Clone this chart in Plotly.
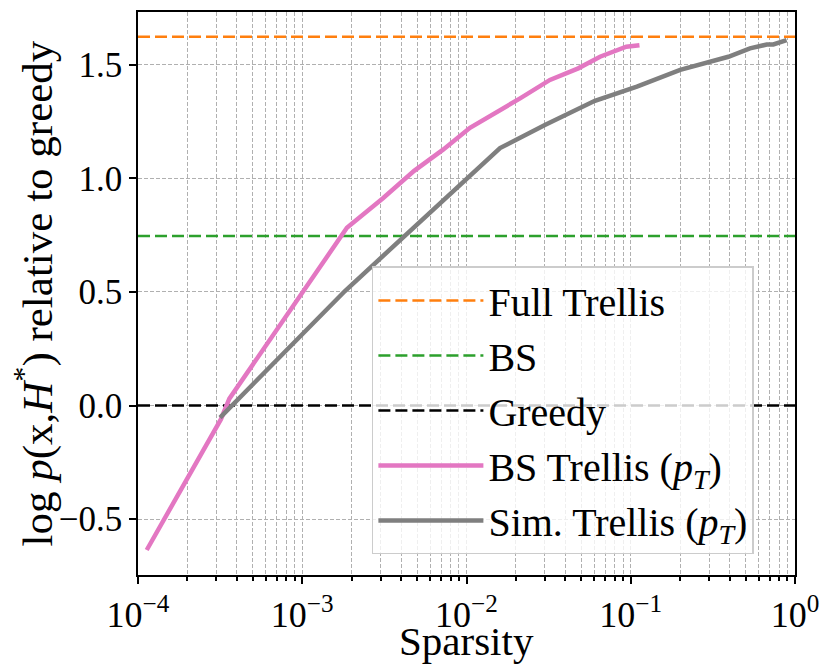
import plotly.graph_objects as go

# reference levels (log-prob relative to greedy)
full_trellis = 1.623
bs_level = 0.746
greedy_level = 0.0
x_span = [1e-4, 1.0]

# BS Trellis (p_T)
bs_trellis_x = [1.13e-4, 3.2e-4, 3.6e-4, 1.87e-3, 3.1e-3, 4.8e-3, 7.2e-3,
                1.05e-2, 2.12e-2, 3.22e-2, 4.79e-2, 6.5e-2, 9.4e-2, 0.113]
bs_trellis_y = [-0.636, -0.06, 0.03, 0.782, 0.912, 1.033, 1.126,
                1.222, 1.352, 1.433, 1.484, 1.535, 1.579, 1.586]

# Sim. Trellis (p_T)
sim_trellis_x = [3.16e-4, 1.82e-3, 1.6e-2, 3.0e-2, 6.05e-2, 0.109, 0.2,
                 0.393, 0.532, 0.673, 0.738, 0.889]
sim_trellis_y = [-0.053, 0.504, 1.133, 1.235, 1.341, 1.404, 1.477,
                 1.535, 1.572, 1.589, 1.589, 1.608]

tick_vals = [1e-4, 1e-3, 1e-2, 1e-1, 1e0]
tick_text = ["10<sup>\u22124</sup>", "10<sup>\u22123</sup>", "10<sup>\u22122</sup>",
             "10<sup>\u22121</sup>", "10<sup>0</sup>"]
y_vals = [-0.5, 0.0, 0.5, 1.0, 1.5]
y_text = ["\u22120.5", "0.0", "0.5", "1.0", "1.5"]

x_title = "Sparsity"
y_title = "log <i>p</i>(x,<i>H</i><sup>*</sup>) relative to greedy"

font_name = "Liberation Serif, Times New Roman, serif"
grid_col = "#b0b0b0"
ref_dash = "12px,5px"

fig = go.Figure()
fig.add_trace(go.Scatter(x=x_span, y=[full_trellis] * 2, mode="lines",
                         name="Full Trellis",
                         line=dict(color="#ff7f0e", width=2.7, dash=ref_dash)))
fig.add_trace(go.Scatter(x=x_span, y=[bs_level] * 2, mode="lines",
                         name="BS",
                         line=dict(color="#2ca02c", width=2.7, dash=ref_dash)))
fig.add_trace(go.Scatter(x=x_span, y=[greedy_level] * 2, mode="lines",
                         name="Greedy",
                         line=dict(color="black", width=2.7, dash=ref_dash)))
fig.add_trace(go.Scatter(x=bs_trellis_x, y=bs_trellis_y, mode="lines",
                         name="BS Trellis (<i>p<sub>T</sub></i>)",
                         line=dict(color="#e377c2", width=4.5)))
fig.add_trace(go.Scatter(x=sim_trellis_x, y=sim_trellis_y, mode="lines",
                         name="Sim. Trellis (<i>p<sub>T</sub></i>)",
                         line=dict(color="#7f7f7f", width=4.5)))

# page body adds an 8px offset, so the figure is a bit smaller than the window
fig.update_layout(
    width=822, height=663,
    margin=dict(l=130, r=35, t=2, b=96),
    plot_bgcolor="white",
    paper_bgcolor="white",
    font=dict(family=font_name, size=37, color="black"),
    showlegend=True,
    legend=dict(x=0.356, y=0.548, xanchor="left", yanchor="top",
                bgcolor="rgba(255,255,255,0.8)", bordercolor="#cccccc",
                borderwidth=1.5, itemwidth=105,
                font=dict(size=40, family=font_name)),
)

# axis titles placed as annotations so their position can be set exactly
fig.add_annotation(text=x_title, xref="paper", yref="paper", x=0.5, y=0,
                   xanchor="center", yanchor="middle", yshift=-66,
                   showarrow=False, font=dict(size=41, family=font_name))
fig.add_annotation(text=y_title, xref="paper", yref="paper", x=0, y=0.5,
                   xanchor="center", yanchor="middle", xshift=-104,
                   textangle=-90, showarrow=False,
                   font=dict(size=43, family=font_name))

fig.update_xaxes(
    type="log", range=[-4, 0],
    tickvals=tick_vals, ticktext=tick_text,
    tickfont=dict(size=36),
    ticks="outside", ticklen=7, tickwidth=1.5, tickcolor="black",
    showline=True, linecolor="black", linewidth=1.5, mirror=True,
    showgrid=True, gridcolor=grid_col, griddash="4px,2px", gridwidth=1,
    minor=dict(dtick="D1", showgrid=True, gridcolor=grid_col, griddash="4px,2px",
               gridwidth=1, ticks="outside", ticklen=4, tickcolor="black"),
    zeroline=False,
)
fig.update_yaxes(
    range=[-0.746, 1.732],
    tickvals=y_vals, ticktext=y_text,
    tickfont=dict(size=35),
    ticks="outside", ticklen=7, tickwidth=1.5, tickcolor="black",
    showline=True, linecolor="black", linewidth=1.5, mirror=True,
    showgrid=True, gridcolor=grid_col, griddash="4px,2px", gridwidth=1,
    zeroline=False,
)

fig.write_html("out.html")
